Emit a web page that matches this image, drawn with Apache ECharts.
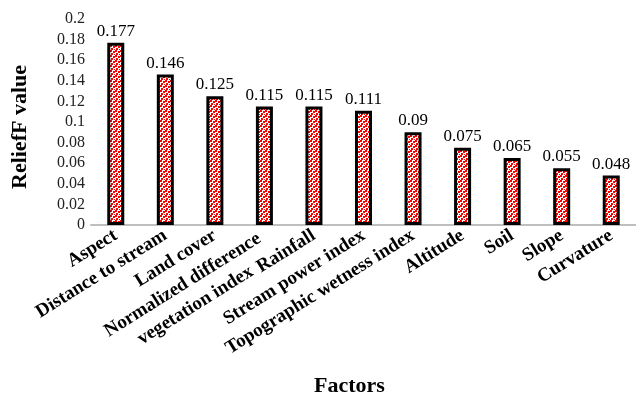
<!DOCTYPE html>
<html><head><meta charset="utf-8">
<script src="https://cdn.jsdelivr.net/npm/echarts@6/dist/echarts.min.js"></script>
<style>html,body{margin:0;padding:0;background:#fff}#c{width:636px;height:403px}</style>
</head><body><div id="c"></div>
<script>
var categories = ['Aspect','Distance to stream','Land cover','Normalized difference\nvegetation index','Rainfall','Stream power index','Topographic wetness index','Altitude','Soil','Slope','Curvature'];
var values = [0.177,0.146,0.125,0.115,0.115,0.111,0.09,0.075,0.065,0.055,0.048];
var valueLabels = ['0.177','0.146','0.125','0.115','0.115','0.111','0.09','0.075','0.065','0.055','0.048'];

var pc = document.createElement('canvas');
pc.width = 5; pc.height = 5;
var g = pc.getContext('2d');
g.fillStyle = '#ffffff'; g.fillRect(0,0,5,5);
g.fillStyle = '#ff0000';
g.fillRect(0,0,2,2); g.fillRect(3,1,2,2); g.fillRect(1,3,2,2); g.fillRect(4,4,1,1);

var serif = '"Liberation Serif","Times New Roman",serif';
var catData = categories.map(function(c){
  if (c.indexOf('\n') >= 0) return {value:c, textStyle:{padding:[24,6,0,0]}};
  return c;
});
var chart = echarts.init(document.getElementById('c'), null, {renderer:'canvas'});
chart.setOption({
  animation:false,
  backgroundColor:'#fff',
  grid:{left:91, right:-5, top:19, bottom:178, containLabel:false},
  xAxis:{
    type:'category', data:catData,
    name:'Factors', nameLocation:'middle', nameGap:150,
    nameTextStyle:{fontFamily:serif, fontWeight:'bold', fontSize:22, color:'#000', padding:[0,0,0,-28]},
    axisLine:{lineStyle:{color:'#bfbfbf', width:2}},
    axisTick:{show:false},
    axisLabel:{interval:0, rotate:32, margin:9, fontFamily:serif, fontWeight:'bold', fontSize:19, color:'#000', lineHeight:24,
      formatter:function(v){
        if (v.indexOf('\n') < 0) return v;
        return v.split('\n').map(function(s){return '{c|'+s+'}';}).join('\n');
      },
      rich:{c:{align:'center', fontFamily:serif, fontWeight:'bold', fontSize:19, color:'#000', lineHeight:24}}
    }
  },
  yAxis:{
    type:'value', min:0, max:0.2, interval:0.02,
    name:'ReliefF value', nameLocation:'middle', nameGap:60,
    nameTextStyle:{fontFamily:serif, fontWeight:'bold', fontSize:22, color:'#000', padding:[0,0,0,-10]},
    axisLine:{show:false}, axisTick:{show:false}, splitLine:{show:false},
    axisLabel:{fontFamily:serif, fontSize:16, color:'#222', margin:6,
      formatter:function(v){return String(Math.round(v*100)/100);}}
  },
  series:[{
    type:'bar', data:values, barWidth:17,
    itemStyle:{color:{image:pc, repeat:'repeat'}, borderColor:'#000', borderWidth:3},
    label:{show:true, position:'top', distance:3, fontFamily:serif, fontSize:17, color:'#000',
      formatter:function(p){return valueLabels[p.dataIndex];}}
  }]
});
</script></body></html>
